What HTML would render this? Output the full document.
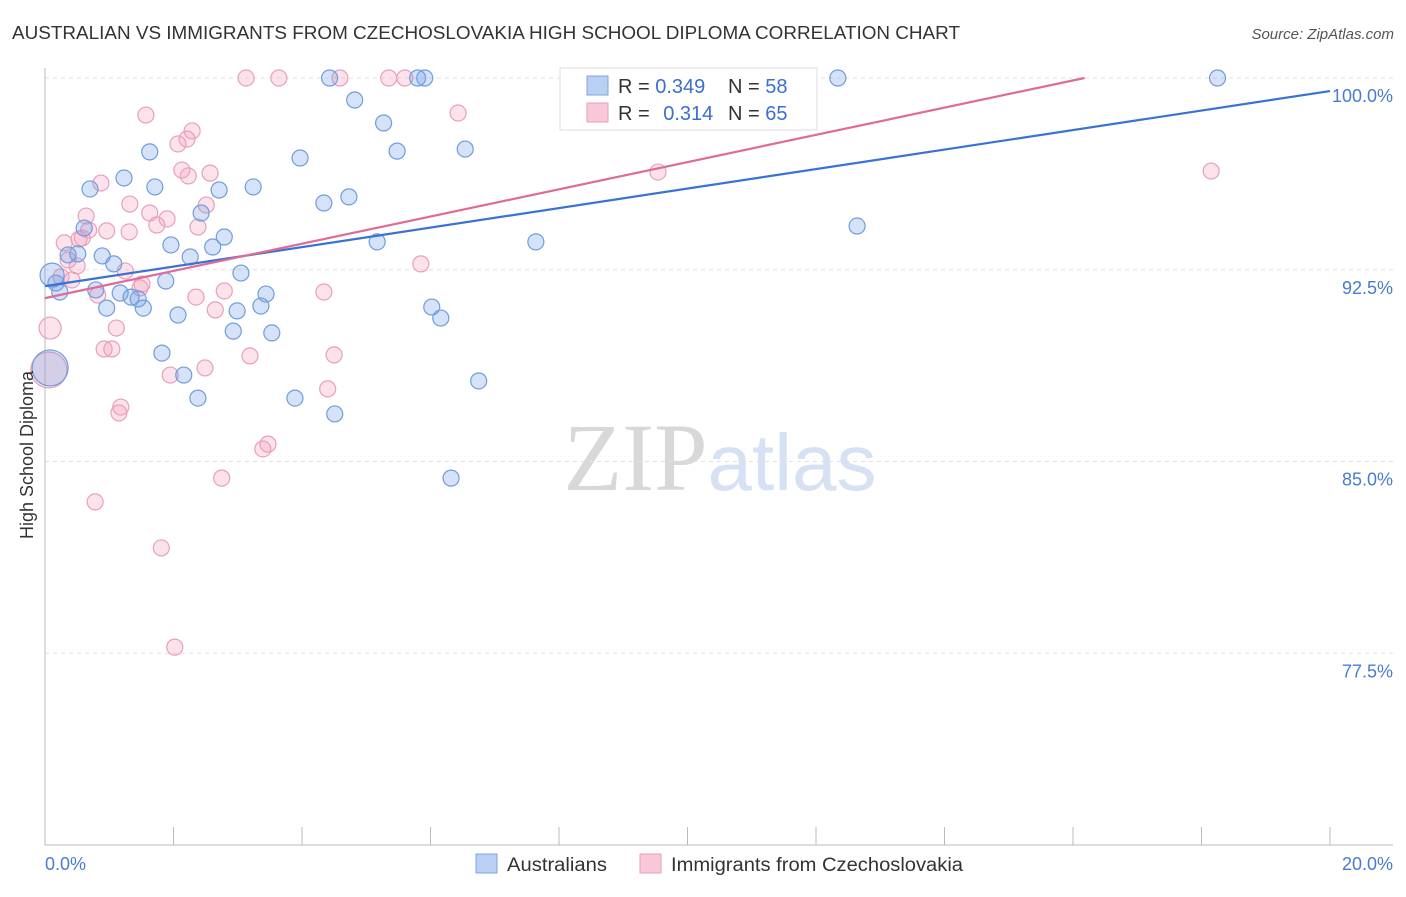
<!DOCTYPE html>
<html><head><meta charset="utf-8"><style>
body{margin:0;background:#fff;font-family:"Liberation Sans",sans-serif;}
</style></head><body>
<svg width="1406" height="892" xmlns="http://www.w3.org/2000/svg" font-family="Liberation Sans, sans-serif">
<text x="12" y="39" font-size="18" fill="#333" textLength="948" lengthAdjust="spacingAndGlyphs">AUSTRALIAN VS IMMIGRANTS FROM CZECHOSLOVAKIA HIGH SCHOOL DIPLOMA CORRELATION CHART</text>
<text x="1394" y="39" font-size="15" fill="#555" text-anchor="end" font-style="italic">Source: ZipAtlas.com</text>
<text x="720" y="490" font-size="96" fill="#ddd" text-anchor="middle" font-family="Liberation Serif, serif"><tspan fill="#d8d8d8">ZIP</tspan><tspan fill="#d6e2f3" font-family="Liberation Sans, sans-serif" font-size="80">atlas</tspan></text>
<g id="grid"></g>
<g id="axes"></g>
<g id="pts"></g>
<g id="lines"></g>
<text x="33" y="455" font-size="18" fill="#333" text-anchor="middle" transform="rotate(-90 33 455)">High School Diploma</text>
<text x="45" y="870" font-size="18" fill="#4a7bd0">0.0%</text>
<text x="1393" y="870" font-size="18" fill="#4a7bd0" text-anchor="end">20.0%</text>
<g>
<rect x="560" y="68" width="257" height="62" fill="#fff" stroke="#ddd"/>
<rect x="587" y="76" width="21" height="19" fill="#b9d0f2" stroke="#7aa5e0"/>
<rect x="587" y="103" width="21" height="19" fill="#f9c8d8" stroke="#e8a0b8"/>
<text x="618" y="93" font-size="20" fill="#333">R = <tspan fill="#3a6fd0">0.349</tspan><tspan x="728">N = </tspan><tspan fill="#3a6fd0">58</tspan></text>
<text x="618" y="120" font-size="20" fill="#333">R = <tspan fill="#3a6fd0" dx="8">0.314</tspan><tspan x="728">N = </tspan><tspan fill="#3a6fd0">65</tspan></text>
</g>
<g>
<rect x="476" y="854" width="21" height="19" fill="#b9d0f2" stroke="#7aa5e0"/>
<text x="507" y="871" font-size="19" fill="#333" textLength="100" lengthAdjust="spacingAndGlyphs">Australians</text>
<rect x="640" y="854" width="21" height="19" fill="#f9c8d8" stroke="#e8a0b8"/>
<text x="671" y="871" font-size="19" fill="#333" textLength="292" lengthAdjust="spacingAndGlyphs">Immigrants from Czechoslovakia</text>
</g>
</svg>
<script>
const yTicks=[100,92.5,85,77.5];
const yTickLabels=["100.0%","92.5%","85.0%","77.5%"];
const xTicks=[0,2,4,6,8,10,12,14,16,18,20];
const blueX=[12.34,18.25,4.43,5.80,5.91,4.82,5.27,5.48,6.54,3.97,1.63,1.23,1.71,0.70,2.71,3.24,4.73,4.34,2.43,12.64,0.61,2.79,2.61,1.96,5.17,7.64,0.36,0.51,0.89,2.26,1.07,3.05,1.88,0.17,0.23,0.79,1.17,1.34,1.45,3.44,0.96,1.53,2.07,2.99,3.36,6.02,6.16,2.93,3.53,1.82,2.16,6.75,2.38,3.89,4.51,6.32,0.08,0.11];
const blueY=[100,100,100,100,100,99.14,98.24,97.14,97.22,96.87,97.11,96.09,95.74,95.66,95.62,95.74,95.35,95.11,94.72,94.21,94.13,93.78,93.39,93.47,93.59,93.59,93.08,93.12,93.04,93.00,92.73,92.37,92.06,91.98,91.63,91.71,91.59,91.43,91.36,91.55,91.00,91.00,90.73,90.89,91.08,91.04,90.61,90.10,90.03,89.24,88.38,88.15,87.48,87.48,86.86,84.35,88.66,92.29];
const blueR=[8,8,8,8,8,8,8,8,8,8,8,8,8,8,8,8,8,8,8,8,8,8,8,8,8,8,8,8,8,8,8,8,8,8,8,8,8,8,8,8,8,8,8,8,8,8,8,8,8,8,8,8,8,8,8,8,18,12];
const pinkX=[3.13,3.64,4.59,5.35,5.60,8.14,1.57,6.43,2.29,2.21,2.07,2.13,2.57,2.23,0.87,9.54,18.15,1.32,1.63,2.51,1.90,1.74,0.64,0.68,0.96,1.31,2.38,0.30,0.58,0.53,0.36,0.50,5.85,1.25,0.25,0.42,1.51,1.48,2.79,2.35,4.34,0.82,2.65,0.08,1.11,0.92,1.04,3.19,4.50,2.49,1.95,0.06,4.40,1.18,1.15,3.47,3.39,2.75,0.78,1.81,2.02];
const pinkY=[100,100,100,100,100,100,98.55,98.63,97.93,97.61,97.42,96.40,96.28,96.17,95.89,96.32,96.36,95.07,94.72,95.03,94.49,94.25,94.60,94.05,94.02,93.98,94.17,93.55,93.74,93.70,92.88,92.65,92.73,92.45,92.22,92.10,91.94,91.79,91.67,91.43,91.63,91.51,90.93,90.22,90.22,89.40,89.40,89.13,89.17,88.66,88.38,88.58,87.84,87.13,86.90,85.68,85.49,84.35,83.42,81.62,77.74];
const pinkR=[8,8,8,8,8,8,8,8,8,8,8,8,8,8,8,8,8,8,8,8,8,8,8,8,8,8,8,8,8,8,8,8,8,8,8,8,8,8,8,8,8,8,8,11,8,8,8,8,8,8,8,18,8,8,8,8,8,8,8,8,8];
const blueTrend=[[0,91.86],[20,99.49]];
const pinkTrend=[[0,91.39],[16.18,100]];
const NS="http://www.w3.org/2000/svg";
function sx(v){return 45+v/20*1285;}
function sy(v){return 78+(100-v)/30*767;}
function mk(t,a,p){const e=document.createElementNS(NS,t);for(const k in a)e.setAttribute(k,a[k]);p.appendChild(e);return e;}
const grid=document.getElementById('grid'),axes=document.getElementById('axes'),pts=document.getElementById('pts'),lines=document.getElementById('lines');
yTicks.forEach((v,i)=>{
 const l=mk('line',{x1:45,x2:1393,y1:sy(v),y2:sy(v),stroke:'#e0e0e0','stroke-dasharray':'4 4'},grid);
 
 
 const t=mk('text',{x:1393,y:sy(v)+24,'font-size':18,fill:'#4a7bd0','text-anchor':'end'},grid);
 t.textContent=yTickLabels[i];
 
 
});
const xa=mk('line',{x1:45,x2:1393,y1:845,y2:845,stroke:'#bbb'},axes);


const ya=mk('line',{x1:45,x2:45,y1:68,y2:845,stroke:'#bbb'},axes);


xTicks.forEach(v=>{
 const t=mk('line',{x1:sx(v),x2:sx(v),y1:827,y2:845,stroke:'#bbb'},axes);
 
 
});
function drawPts(X,Y,R,fill,stroke,name){
 X.forEach((x,i)=>{
  const c=mk('circle',{cx:sx(x),cy:sy(Y[i]),r:R[i],fill:fill,stroke:stroke,'stroke-width':1.2},pts);
  
  
 });
}
drawPts(pinkX,pinkY,pinkR,'rgba(244,160,190,0.3)','#e8a0b8','czech-point');
drawPts(blueX,blueY,blueR,'rgba(120,160,230,0.3)','#6f9ddd','australian-point');
const bl=mk('line',{x1:sx(blueTrend[0][0]),y1:sy(blueTrend[0][1]),x2:sx(blueTrend[1][0]),y2:sy(blueTrend[1][1]),stroke:'#3a72d4','stroke-width':2.2},lines);


const pl=mk('line',{x1:sx(pinkTrend[0][0]),y1:sy(pinkTrend[0][1]),x2:sx(pinkTrend[1][0]),y2:sy(pinkTrend[1][1]),stroke:'#e06a98','stroke-width':2.2},lines);


</script>
</body></html>
